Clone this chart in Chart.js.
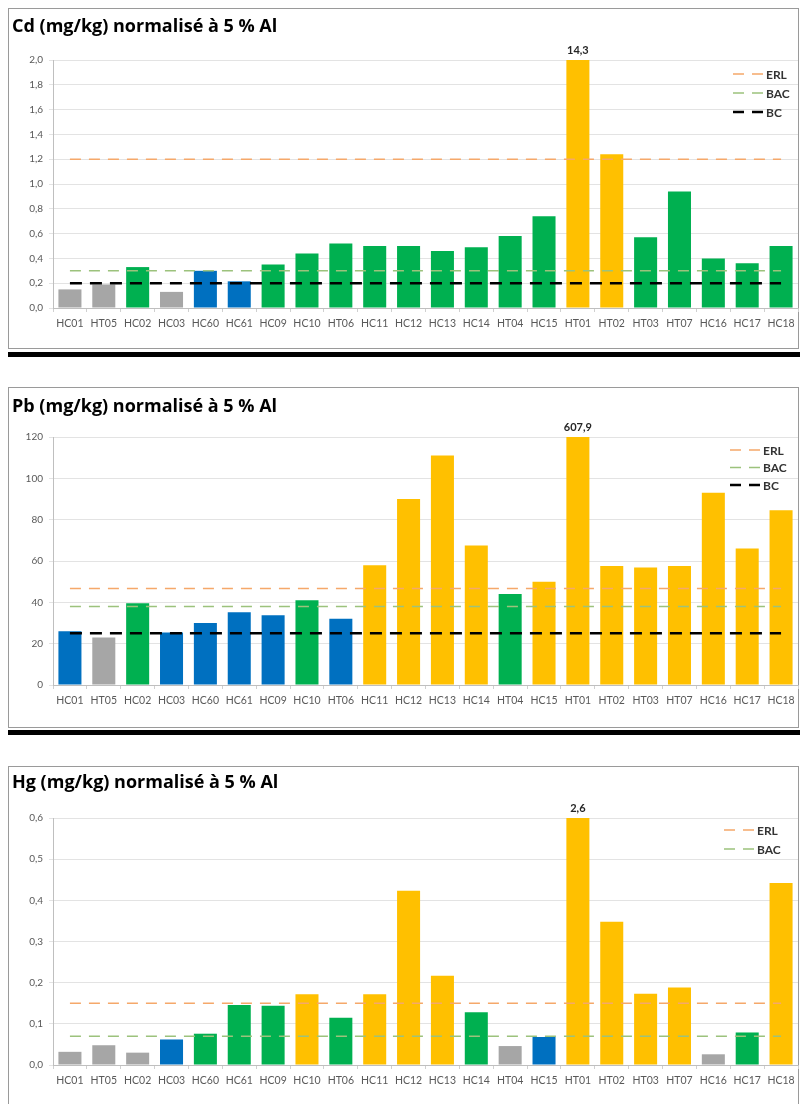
<!DOCTYPE html>
<html>
<head>
<meta charset="utf-8">
<script src="https://cdn.jsdelivr.net/npm/chart.js@4.4.1/dist/chart.umd.min.js"></script>
<style>
  body { margin: 0; background: #fff; }
  #page { position: relative; width: 800px; height: 1104px; overflow: hidden; }
  .panel { position: absolute; left: 0; width: 800px; height: 350px; }
  .frame { position: absolute; left: 8px; width: 789px; border: 1px solid #9a9a9a; }
  .sep { position: absolute; left: 8px; width: 792px; height: 5px; background: #000; }
</style>
</head>
<body>
<div id="page">
  <div class="frame" style="top:8px;height:339px"></div>
  <div class="sep" style="top:352px"></div>
  <div class="frame" style="top:387px;height:339px"></div>
  <div class="sep" style="top:730px"></div>
  <div class="frame" style="top:766px;height:400px"></div>
  <div class="panel" style="top:0"><canvas id="cdChart" width="800" height="350"></canvas></div>
  <div class="panel" style="top:379px"><canvas id="pbChart" width="800" height="350"></canvas></div>
  <div class="panel" style="top:758px"><canvas id="hgChart" width="800" height="350"></canvas></div>
</div>
<script>
// stations, in plotting order
var stations = ['HC01', 'HT05', 'HC02', 'HC03', 'HC60', 'HC61', 'HC09', 'HC10', 'HT06', 'HC11', 'HC12',
                'HC13', 'HC14', 'HT04', 'HC15', 'HT01', 'HT02', 'HT03', 'HT07', 'HC16', 'HC17', 'HC18'];

// Cd (mg/kg) normalised to 5 % Al
var cdValues = [0.15, 0.19, 0.33, 0.13, 0.30, 0.215, 0.35, 0.44, 0.52, 0.50, 0.50,
                0.46, 0.49, 0.58, 0.74, 14.3, 1.24, 0.57, 0.94, 0.40, 0.36, 0.50];
// quality class per station: 0 < BC, 1 BC-BAC, 2 BAC-ERL, 3 > ERL
var cdClass = [0, 0, 2, 0, 1, 1, 2, 2, 2, 2, 2, 2, 2, 2, 2, 3, 3, 2, 2, 2, 2, 2];
var cdErl = 1.2, cdBac = 0.3, cdBc = 0.2;

// Pb
var pbValues = [26, 23, 39.6, 25.4, 30, 35.2, 33.8, 41, 32, 58, 90,
                111, 67.5, 44, 50, 607.9, 57.6, 56.8, 57.6, 93, 66, 84.5];
var pbClass = [1, 0, 2, 1, 1, 1, 1, 2, 1, 3, 3, 3, 3, 2, 3, 3, 3, 3, 3, 3, 3, 3];
var pbErl = 46.7, pbBac = 38, pbBc = 25;

// Hg
var hgValues = [0.032, 0.048, 0.030, 0.062, 0.076, 0.146, 0.144, 0.172, 0.115, 0.172, 0.423,
                0.217, 0.128, 0.046, 0.068, 2.6, 0.348, 0.173, 0.188, 0.026, 0.079, 0.442];
var hgClass = [0, 0, 0, 1, 2, 2, 2, 3, 2, 3, 3, 3, 2, 0, 1, 3, 3, 3, 3, 0, 2, 3];
var hgErl = 0.15, hgBac = 0.07;

var FONT = 'Lato, "Open Sans", sans-serif';
var TITLE_FONT = '"Open Sans", Lato, sans-serif';
var classColors = ['#a6a6a6', '#0070c0', '#00b050', '#ffc000'];
var refStyles = {
  ERL: { color: '#f5a86a', width: 1.5, dash: [11, 8] },
  BAC: { color: '#9cc27c', width: 1.5, dash: [11, 8] },
  BC:  { color: '#000000', width: 2.5, dash: [12, 8] }
};

// value printed above bars that go past the top of the axis
var overflowLabels = {
  id: 'overflowLabels',
  afterDatasetsDraw: function (chart) {
    var meta = chart.getDatasetMeta(0);
    var yMax = chart.scales.y.max;
    var ctx = chart.ctx;
    ctx.save();
    ctx.font = 'bold 11px ' + FONT;
    ctx.fillStyle = '#262626';
    ctx.textAlign = 'center';
    ctx.textBaseline = 'middle';
    chart.data.datasets[0].data.forEach(function (v, i) {
      if (v > yMax) {
        ctx.fillText(String(v).replace('.', ','), meta.data[i].x, chart.chartArea.top - 10);
      }
    });
    ctx.restore();
  }
};

// small legend for the reference lines, top right inside the plot
var refLegend = {
  id: 'refLegend',
  afterDraw: function (chart, args, opts) {
    var ctx = chart.ctx;
    var y = opts.y;
    ctx.save();
    ctx.font = 'bold 12px ' + FONT;
    ctx.textBaseline = 'middle';
    chart.data.datasets.forEach(function (ds) {
      if (ds.type !== 'line') return;
      ctx.strokeStyle = ds.borderColor;
      ctx.lineWidth = ds.borderWidth;
      ctx.setLineDash([11, 8]);
      ctx.beginPath();
      ctx.moveTo(opts.x, y);
      ctx.lineTo(opts.x + 30, y);
      ctx.stroke();
      ctx.setLineDash([]);
      ctx.fillStyle = '#333';
      ctx.fillText(ds.label, opts.x + 33, y + 1);
      y += opts.dy;
    });
    ctx.restore();
  }
};

function buildChart(id, p) {
  var datasets = [{
    type: 'bar',
    data: p.values,
    backgroundColor: p.classes.map(function (c) { return classColors[c]; }),
    borderWidth: 0,
    barPercentage: 0.68,
    categoryPercentage: 1,
    order: 1
  }];
  p.refs.forEach(function (r) {
    var s = refStyles[r.label];
    datasets.push({
      type: 'line',
      label: r.label,
      data: stations.map(function () { return r.value; }),
      borderColor: s.color,
      borderWidth: s.width,
      borderDash: s.dash,
      pointRadius: 0,
      fill: false,
      order: 0
    });
  });

  return new Chart(document.getElementById(id), {
    data: { labels: stations, datasets: datasets },
    plugins: [overflowLabels, refLegend],
    options: {
      responsive: false,
      animation: false,
      layout: { padding: { left: 12, right: 2, top: 8, bottom: p.padBottom } },
      plugins: {
        legend: { display: false },
        tooltip: { enabled: false },
        title: {
          display: true,
          text: p.title,
          align: 'start',
          color: '#000',
          font: { family: TITLE_FONT, size: 18, weight: 'bold', lineHeight: '20.4px' },
          padding: { top: p.titleTop, bottom: p.titleBottom }
        },
        refLegend: p.legend
      },
      scales: {
        x: {
          afterFit: function (scale) { scale.height = 34; },
          grid: { display: true, drawOnChartArea: false, offset: true, tickLength: 4, color: '#d0d0d0' },
          border: { display: true, color: '#bfbfbf' },
          ticks: { autoSkip: false, maxRotation: 0, padding: 5, color: '#595959', font: { family: FONT, size: 10.5 } }
        },
        y: {
          min: 0,
          max: p.max,
          afterFit: function (scale) { scale.width = 41; },
          grid: { color: '#e3e3e3', tickLength: 4 },
          border: { display: true, color: '#bfbfbf' },
          ticks: {
            stepSize: p.step,
            padding: 6,
            color: '#595959',
            font: { family: FONT, size: 10 },
            callback: function (v) { return v.toFixed(p.decimals).replace('.', ','); }
          }
        }
      }
    }
  });
}

buildChart('cdChart', {
  title: 'Cd (mg/kg) normalisé à 5 % Al',
  values: cdValues, classes: cdClass,
  refs: [{ label: 'ERL', value: cdErl }, { label: 'BAC', value: cdBac }, { label: 'BC', value: cdBc }],
  max: 2, step: 0.2, decimals: 1,
  titleTop: 9, titleBottom: 22.6, padBottom: 8,
  legend: { x: 733, y: 74, dy: 19 }
});

buildChart('pbChart', {
  title: 'Pb (mg/kg) normalisé à 5 % Al',
  values: pbValues, classes: pbClass,
  refs: [{ label: 'ERL', value: pbErl }, { label: 'BAC', value: pbBac }, { label: 'BC', value: pbBc }],
  max: 120, step: 20, decimals: 0,
  titleTop: 10, titleBottom: 19.6, padBottom: 10,
  legend: { x: 730, y: 71, dy: 17.5 }
});

buildChart('hgChart', {
  title: 'Hg (mg/kg) normalisé à 5 % Al',
  values: hgValues, classes: hgClass,
  refs: [{ label: 'ERL', value: hgErl }, { label: 'BAC', value: hgBac }],
  max: 0.6, step: 0.1, decimals: 1,
  titleTop: 7, titleBottom: 24.6, padBottom: 9,
  legend: { x: 724, y: 72, dy: 19 }
});
</script>
</body>
</html>
